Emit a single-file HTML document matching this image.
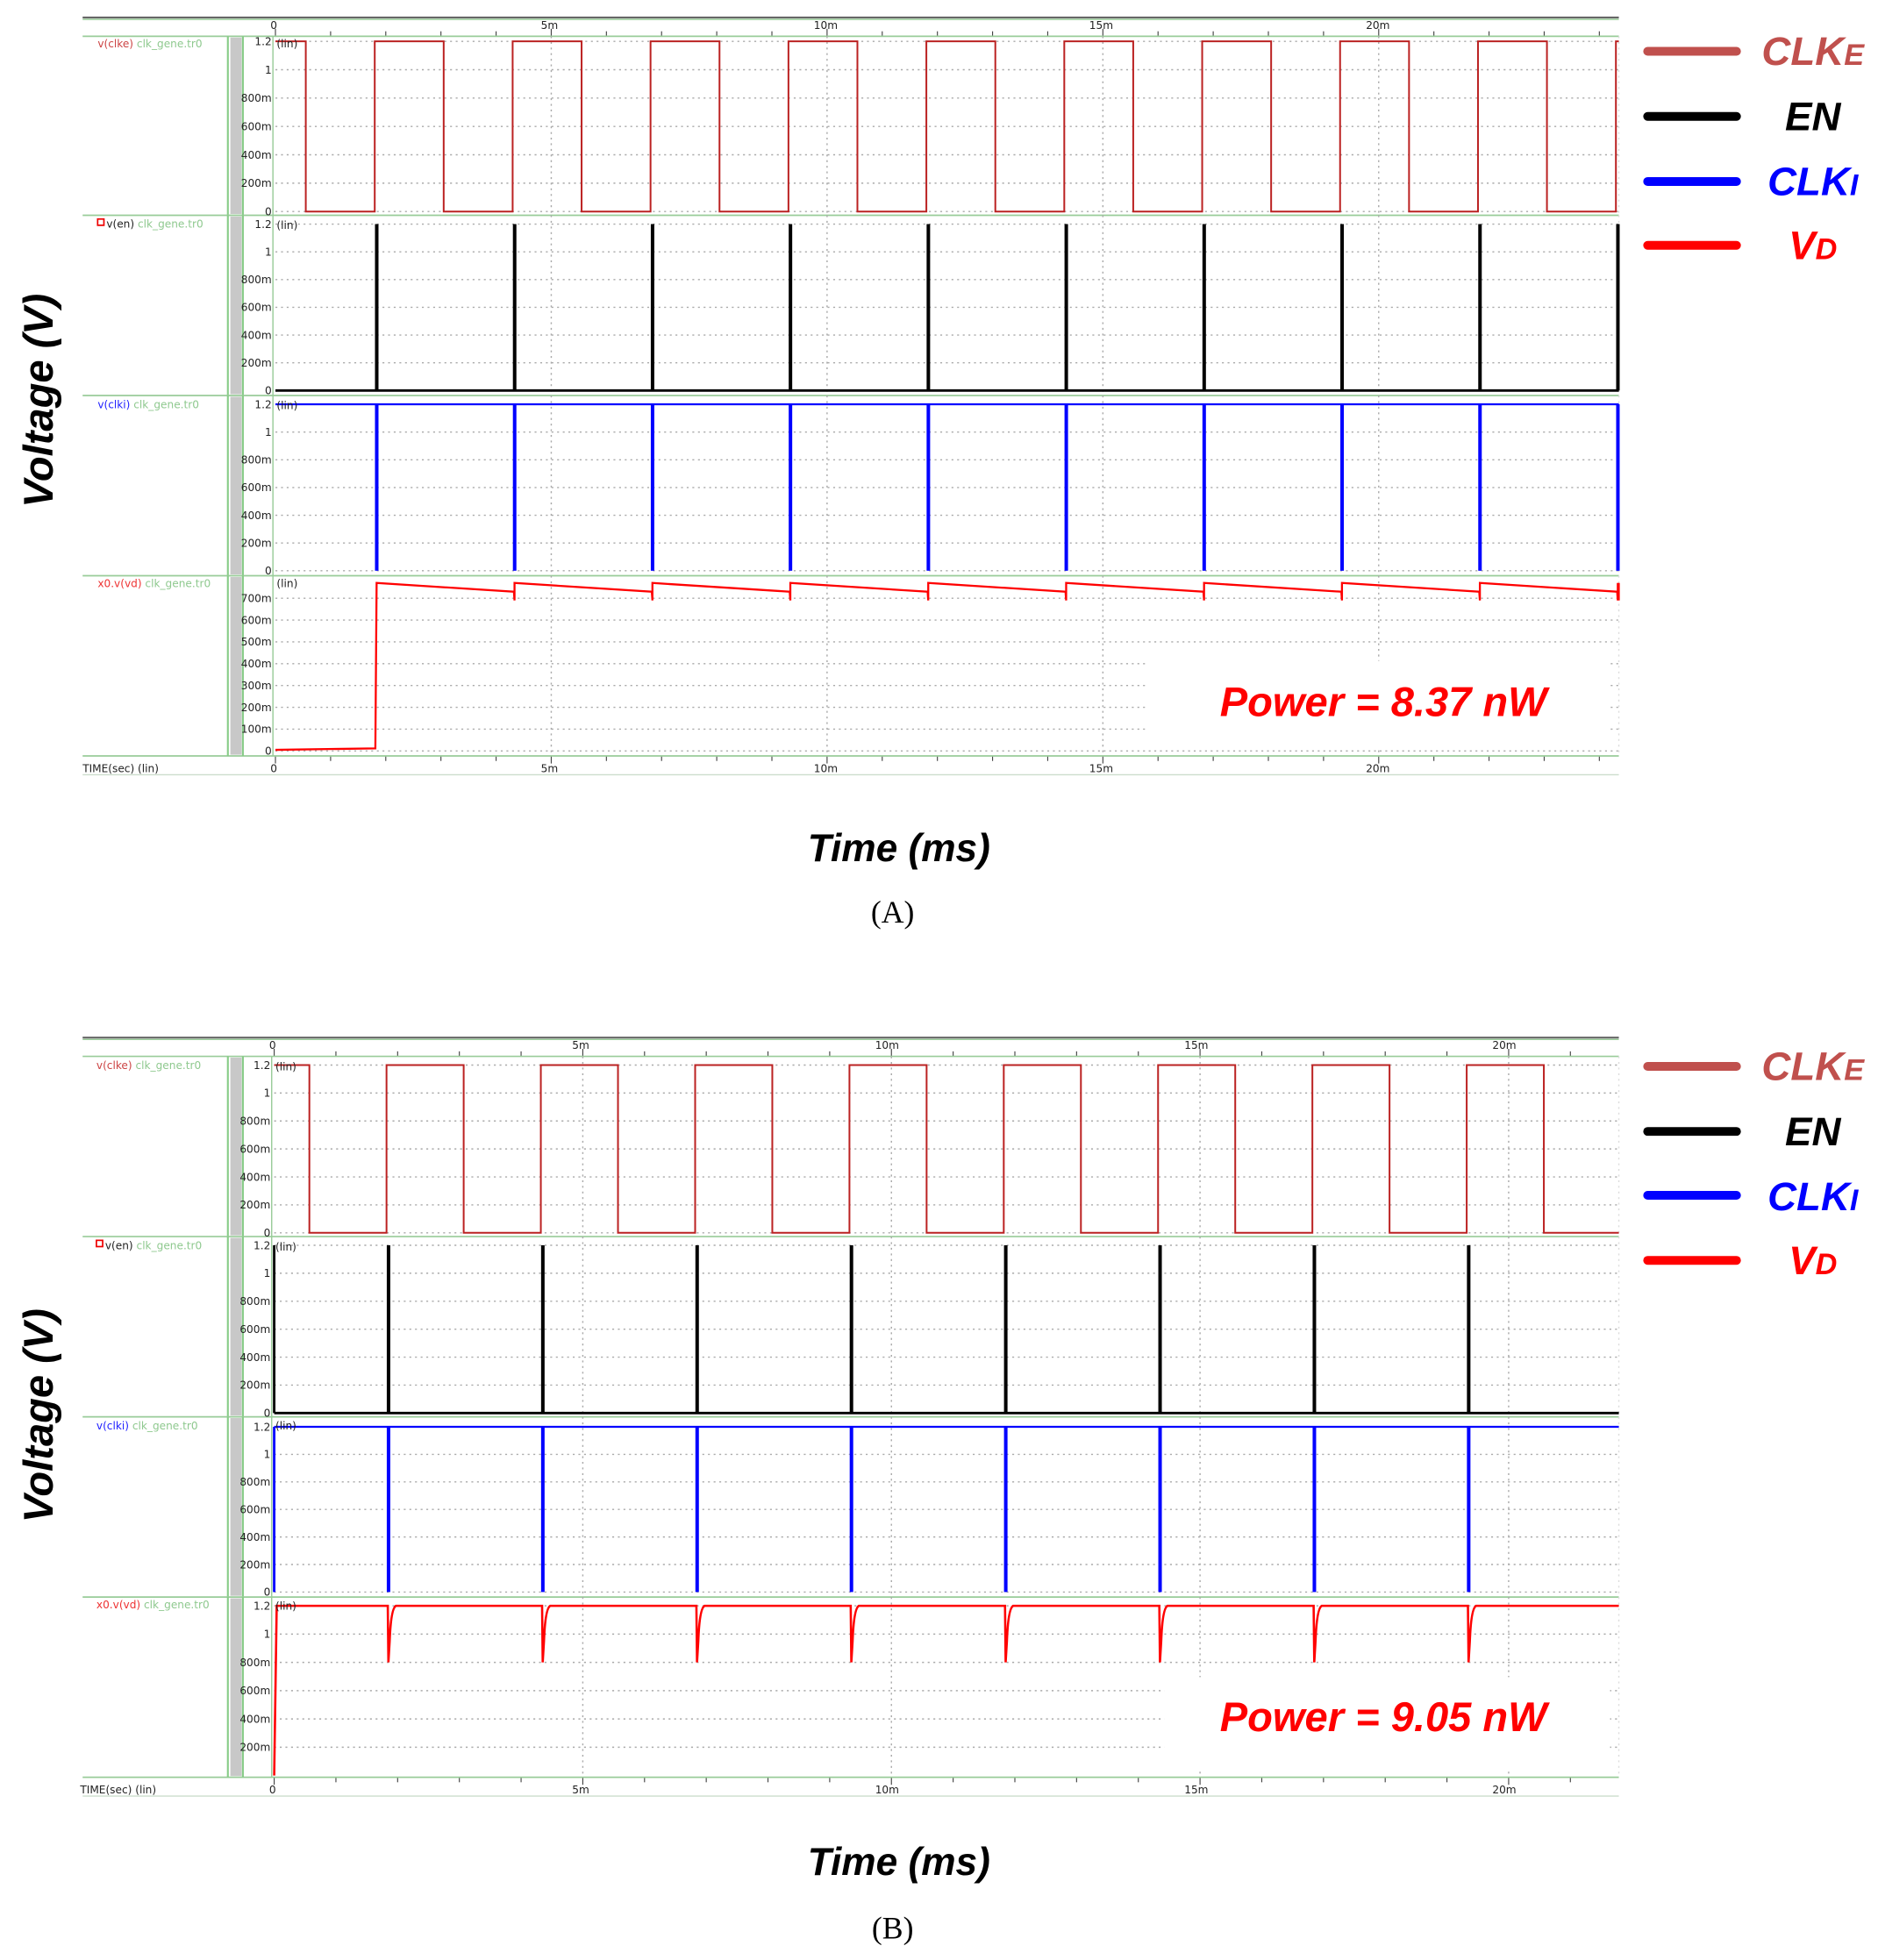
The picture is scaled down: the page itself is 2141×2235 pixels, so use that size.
<!DOCTYPE html>
<html><head><meta charset="utf-8">
<style>
html,body{margin:0;padding:0;background:#fff;}
svg{display:block;}
.t{font-family:"DejaVu Sans","Liberation Sans",sans-serif;font-size:8.5px;fill:#222;}
.g{fill:#8fc98f;}
.big{font-family:"Liberation Sans",sans-serif;font-style:italic;font-weight:bold;}
</style></head>
<body>
<svg id="s" width="2141" height="2235" viewBox="0 0 1500 1566" preserveAspectRatio="none" xmlns="http://www.w3.org/2000/svg">
<g id="dyn"></g>
<g class="t">
<text x="216" y="23">0</text><text x="432" y="23">5m</text><text x="650" y="23">10m</text><text x="870" y="23">15m</text><text x="1091" y="23">20m</text>
<text x="216" y="617">0</text><text x="432" y="617">5m</text><text x="650" y="617">10m</text><text x="870" y="617">15m</text><text x="1091" y="617">20m</text>
<text x="66" y="617">TIME(sec) (lin)</text>
<text x="78" y="38" fill="#c44">v(clke) <tspan class="g">clk_gene.tr0</tspan></text>
<text x="85" y="182">v(en) <tspan class="g">clk_gene.tr0</tspan></text>
<text x="78" y="326" fill="#22f">v(clki) <tspan class="g">clk_gene.tr0</tspan></text>
<text x="78" y="469" fill="#e33">x0.v(vd) <tspan class="g">clk_gene.tr0</tspan></text>
<text x="215" y="838">0</text><text x="457" y="838">5m</text><text x="699" y="838">10m</text><text x="946" y="838">15m</text><text x="1192" y="838">20m</text>
<text x="215" y="1433">0</text><text x="457" y="1433">5m</text><text x="699" y="1433">10m</text><text x="946" y="1433">15m</text><text x="1192" y="1433">20m</text>
<text x="64" y="1433">TIME(sec) (lin)</text>
<text x="77" y="854" fill="#c44">v(clke) <tspan class="g">clk_gene.tr0</tspan></text>
<text x="84" y="998">v(en) <tspan class="g">clk_gene.tr0</tspan></text>
<text x="77" y="1142" fill="#22f">v(clki) <tspan class="g">clk_gene.tr0</tspan></text>
<text x="77" y="1285" fill="#e33">x0.v(vd) <tspan class="g">clk_gene.tr0</tspan></text>
</g>
<rect x="78" y="175" width="5" height="5" fill="none" stroke="#e00" stroke-width="1.2"/>
<rect x="77" y="991" width="5" height="5" fill="none" stroke="#e00" stroke-width="1.2"/>
<g id="ylab" class="t"></g>
<text class="big" x="1105" y="572" font-size="33" font-weight="normal" fill="#f00" text-anchor="middle">Power = 8.37 nW</text>
<text class="big" x="1105" y="1383" font-size="33" font-weight="normal" fill="#f00" text-anchor="middle">Power = 9.05 nW</text>
<text class="big" x="718" y="688" font-size="31" fill="#000" text-anchor="middle">Time (ms)</text>
<text class="big" x="718" y="1498" font-size="31" fill="#000" text-anchor="middle">Time (ms)</text>
<text x="713" y="737" font-size="25" font-family="Liberation Serif,serif" text-anchor="middle">(A)</text>
<text x="713" y="1549" font-size="25" font-family="Liberation Serif,serif" text-anchor="middle">(B)</text>
<text class="big" transform="translate(42,320) rotate(-90)" font-size="33" text-anchor="middle">Voltage (V)</text>
<text class="big" transform="translate(42,1131) rotate(-90)" font-size="33" text-anchor="middle">Voltage (V)</text>
<g stroke-linecap="round" stroke-width="7">
<line x1="1316" y1="41" x2="1387" y2="41" stroke="#c0504d"/><line x1="1316" y1="93" x2="1387" y2="93" stroke="#000"/>
<line x1="1316" y1="145" x2="1387" y2="145" stroke="#00f"/><line x1="1316" y1="196" x2="1387" y2="196" stroke="#f00"/>
<line x1="1316" y1="852" x2="1387" y2="852" stroke="#c0504d"/><line x1="1316" y1="904" x2="1387" y2="904" stroke="#000"/>
<line x1="1316" y1="955" x2="1387" y2="955" stroke="#00f"/><line x1="1316" y1="1007" x2="1387" y2="1007" stroke="#f00"/>
</g>
<g class="big" font-size="32" font-weight="normal" text-anchor="middle">
<text x="1448" y="52" fill="#c0504d">CLK<tspan font-size="24">E</tspan></text>
<text x="1448" y="104" fill="#000">EN</text>
<text x="1448" y="156" fill="#00f">CLK<tspan font-size="24">I</tspan></text>
<text x="1448" y="207" fill="#f00">V<tspan font-size="24">D</tspan></text>
<text x="1448" y="863" fill="#c0504d">CLK<tspan font-size="24">E</tspan></text>
<text x="1448" y="915" fill="#000">EN</text>
<text x="1448" y="967" fill="#00f">CLK<tspan font-size="24">I</tspan></text>
<text x="1448" y="1018" fill="#f00">V<tspan font-size="24">D</tspan></text>
</g>
</svg>
<script>
var NS="http://www.w3.org/2000/svg",dyn=document.getElementById('dyn');
function el(n,a,p){var e=document.createElementNS(NS,n);for(var k in a)e.setAttribute(k,a[k]);(p||dyn).appendChild(e);return e;}
function line(x1,y1,x2,y2,st,w,d){el('line',{x1:x1,y1:y1,x2:x2,y2:y2,stroke:st,'stroke-width':w||1,'stroke-dasharray':d||''});}
function chart(C){
 var X=function(ms){return C.x0+ms*C.k;};
 line(66,C.top,1293,C.top,'#666',1.5);
 line(66,C.top+1.5,1293,C.top+1.5,'#9c9',1);
 for(var m=0;m*C.k+C.x0<=1293;m++){var x=X(m);
  line(x,C.p[0].top-(m%5?4:6),x,C.p[0].top,'#444',0.8);
  line(x,C.bot,x,C.bot+(m%5?4:6),'#444',0.8);}
 line(66,C.bot,1293,C.bot,'#9c9',1.2);line(66,C.bot+15,1293,C.bot+15,'#cdc',1);
 C.p.forEach(function(P){
  line(66,P.top,1293,P.top,'#9c9',1.2);
  el('rect',{x:184,y:P.top+1,width:9,height:P.bot-P.top-2,fill:'#c8c8c8'});
  line(182,P.top,182,P.bot,'#8c8',1.5);line(194,P.top,194,P.bot,'#8c8',1.5);
  line(C.x0-2,P.top,C.x0-2,P.bot,'#9c9',1);
  P.ticks.forEach(function(t){var y=P.y0-t[0]*P.s;
   line(C.x0,y,1293,y,'#aaa',1,'1.5 3');
   var tx=el('text',{x:C.x0-3,y:y+3,'text-anchor':'end'},document.getElementById('ylab'));tx.textContent=t[1];});
  var lt=el('text',{x:C.x0+1,y:P.ly},document.getElementById('ylab'));lt.textContent='(lin)';
  for(var m=5;X(m)<1293;m+=5){line(X(m),P.top,X(m),P.bot,'#aaa',1,'1.5 3');}
  line(1293,P.top,1293,P.bot,'#ddd',1,'1.5 3');
 });
 var P=C.p[0],y1=P.y0-1.2*P.s,y0=P.y0,d='M'+C.x0+' '+y1;
 d+=' H'+X(C.f0)+' V'+y0;
 for(var i=0;i<20;i++){var r=C.f0+C.low+i*2.5,f=r+1.25;if(X(r)>1293){d+=' H1293';break;}
  d+=' H'+X(r)+' V'+y1;if(X(f)>1293){d+=' H1293';break;}d+=' H'+X(f)+' V'+y0;}
 el('path',{d:d,fill:'none',stroke:'#b22',"stroke-width":1.4});
 var pulses=[];for(var i=0;;i++){var r=C.f0+C.low+i*2.5;if(X(r)>1293)break;pulses.push(X(r)+1.5);}
 P=C.p[1];y1=P.y0-1.2*P.s;y0=P.y0;
 el('path',{d:'M'+C.x0+' '+y0+' H1293',stroke:'#000','stroke-width':2,fill:'none'});
 pulses.forEach(function(x){el('rect',{x:x-1.3,y:y1,width:2.8,height:y0-y1,fill:'#000'});});
 if(C.en0)el('rect',{x:C.x0-1,y:y1,width:2,height:y0-y1,fill:'#000'});
 P=C.p[2];y1=P.y0-1.2*P.s;y0=P.y0;
 el('path',{d:'M'+C.x0+' '+y1+' H1293',stroke:'#00f','stroke-width':1.6,fill:'none'});
 pulses.forEach(function(x){el('rect',{x:x-1.3,y:y1,width:2.8,height:y0-y1,fill:'#00f'});});
 if(C.en0)el('rect',{x:C.x0-1,y:y1,width:2,height:y0-y1,fill:'#00f'});
 C.vd(pulses,X);
}
var A={x0:220,k:44.06,top:14,bot:604,f0:0.55,low:1.25,p:[
 {top:29,bot:172,y0:169,s:113.3,ly:38},{top:172,bot:316,y0:312,s:110.8,ly:183},
 {top:316,bot:460,y0:456,s:110.8,ly:327},{top:460,bot:604,y0:600,s:174.3,ly:469}],
 vd:function(pu,X){var P=A.p[3],Y=function(v){return P.y0-v*P.s;};
  var d='M220 '+Y(0.005)+' L'+(pu[0]-1)+' '+Y(0.012)+' L'+pu[0]+' '+Y(0.77);
  for(var i=0;i<pu.length;i++){var a=pu[i],b=pu[i+1]||1293;
   if(i>0)d+=' L'+a+' '+Y(0.69)+' L'+a+' '+Y(0.77);
   d+=' L'+(b-0.5)+' '+Y(0.73);}
  el('path',{d:d,fill:'none',stroke:'#f00','stroke-width':1.6});
  el('line',{x1:1293,y1:Y(0.77),x2:1293,y2:Y(0.69),stroke:'#f00','stroke-width':1.5});
 }};
A.p[0].ticks=A.p[1].ticks=A.p[2].ticks=[[0,'0'],[0.2,'200m'],[0.4,'400m'],[0.6,'600m'],[0.8,'800m'],[1,'1'],[1.2,'1.2']];
A.p[3].ticks=[[0,'0'],[0.1,'100m'],[0.2,'200m'],[0.3,'300m'],[0.4,'400m'],[0.5,'500m'],[0.6,'600m'],[0.7,'700m']];
var B={x0:219,k:49.3,top:829,bot:1420,f0:0.57,low:1.25,en0:true,p:[
 {top:844,bot:988,y0:985,s:111.7,ly:855},{top:988,bot:1132,y0:1129,s:111.7,ly:999},
 {top:1132,bot:1276,y0:1272,s:110,ly:1142},{top:1276,bot:1420,y0:1418.6,s:113,ly:1286}],
 vd:function(pu,X){var P=B.p[3],Y=function(v){return P.y0-v*P.s;};
  var d='M219 '+Y(0)+' L221 '+Y(1.2);
  pu.forEach(function(x){d+=' L'+(x-0.5)+' '+Y(1.2)+' L'+x+' '+Y(0.8)+' L'+(x+1)+' '+Y(0.95)+' Q'+(x+2)+' '+Y(1.18)+' '+(x+6)+' '+Y(1.2);});
  d+=' L1293 '+Y(1.2);
  el('path',{d:d,fill:'none',stroke:'#f00','stroke-width':1.8});
 }};
B.p[0].ticks=B.p[1].ticks=B.p[2].ticks=A.p[0].ticks;
B.p[3].ticks=[[0.2,'200m'],[0.4,'400m'],[0.6,'600m'],[0.8,'800m'],[1,'1'],[1.2,'1.2']];
chart(A);chart(B);
el('rect',{x:916,y:528,width:370,height:70,fill:'#fff'});
el('rect',{x:930,y:1340,width:356,height:75,fill:'#fff'});
</script>
</body></html>
